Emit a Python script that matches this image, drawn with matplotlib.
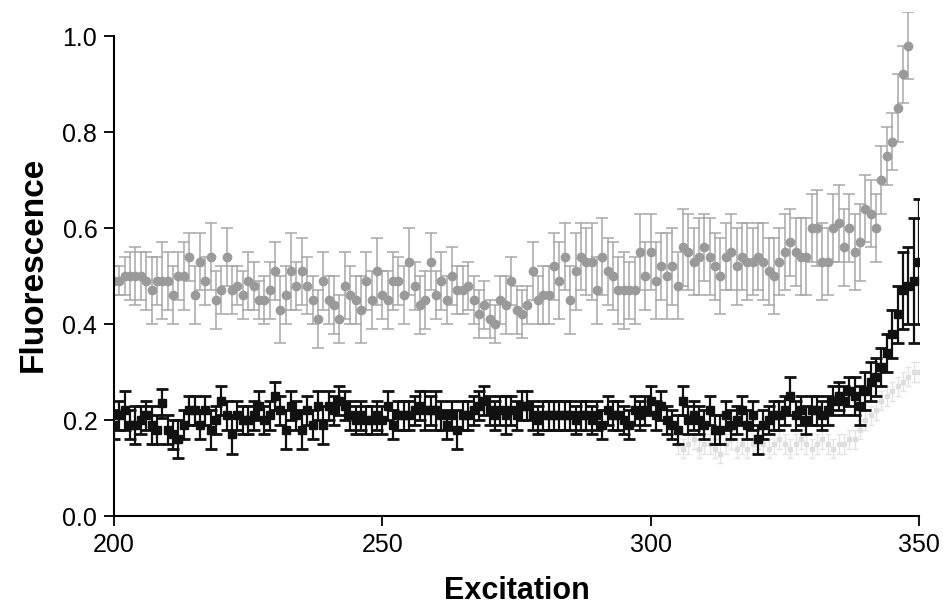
import numpy as np
import matplotlib
matplotlib.use('Agg')
import matplotlib.pyplot as plt

plt.rcParams['font.family'] = ['Liberation Sans', 'DejaVu Sans']

# gray circles, 200..348 nm
wl_gray = np.arange(200, 349)
fl_gray = [
    0.49, 0.49, 0.50, 0.50, 0.50, 0.50, 0.49, 0.47, 0.49, 0.49,
    0.49, 0.46, 0.50, 0.50, 0.54, 0.46, 0.53, 0.49, 0.54, 0.45,
    0.47, 0.54, 0.47, 0.48, 0.46, 0.49, 0.48, 0.45, 0.45, 0.47,
    0.51, 0.43, 0.46, 0.51, 0.48, 0.51, 0.48, 0.45, 0.41, 0.49,
    0.45, 0.44, 0.41, 0.48, 0.46, 0.45, 0.43, 0.49, 0.45, 0.51,
    0.46, 0.45, 0.49, 0.49, 0.46, 0.53, 0.48, 0.44, 0.45, 0.53,
    0.46, 0.49, 0.45, 0.50, 0.47, 0.47, 0.48, 0.45, 0.42, 0.44,
    0.41, 0.40, 0.45, 0.44, 0.49, 0.43, 0.42, 0.44, 0.51, 0.45,
    0.46, 0.46, 0.52, 0.49, 0.54, 0.45, 0.51, 0.54, 0.53, 0.53,
    0.47, 0.54, 0.51, 0.50, 0.47, 0.47, 0.47, 0.47, 0.55, 0.50,
    0.55, 0.49, 0.52, 0.50, 0.52, 0.48, 0.56, 0.55, 0.53, 0.54,
    0.56, 0.54, 0.52, 0.50, 0.54, 0.55, 0.52, 0.54, 0.53, 0.53,
    0.54, 0.53, 0.51, 0.50, 0.53, 0.55, 0.57, 0.55, 0.54, 0.54,
    0.60, 0.60, 0.53, 0.53, 0.60, 0.61, 0.56, 0.60, 0.55, 0.57,
    0.64, 0.63, 0.60, 0.70, 0.75, 0.78, 0.85, 0.92, 0.98,
]
err_gray = [
    0.03, 0.03, 0.04, 0.05, 0.06, 0.05, 0.06, 0.07, 0.05, 0.08,
    0.06, 0.06, 0.05, 0.07, 0.05, 0.06, 0.06, 0.05, 0.07, 0.06,
    0.05, 0.06, 0.05, 0.04, 0.05, 0.06, 0.05, 0.04, 0.05, 0.06,
    0.06, 0.07, 0.06, 0.08, 0.05, 0.07, 0.06, 0.05, 0.06, 0.06,
    0.05, 0.06, 0.05, 0.07, 0.06, 0.05, 0.07, 0.06, 0.06, 0.07,
    0.05, 0.06, 0.06, 0.05, 0.06, 0.07, 0.05, 0.06, 0.06, 0.06,
    0.05, 0.06, 0.05, 0.06, 0.05, 0.05, 0.05, 0.05, 0.05, 0.05,
    0.04, 0.04, 0.05, 0.06, 0.05, 0.05, 0.05, 0.04, 0.06, 0.05,
    0.06, 0.06, 0.07, 0.08, 0.07, 0.07, 0.08, 0.07, 0.07, 0.08,
    0.07, 0.08, 0.07, 0.07, 0.07, 0.08, 0.06, 0.07, 0.08, 0.07,
    0.08, 0.08, 0.07, 0.09, 0.08, 0.07, 0.08, 0.08, 0.07, 0.08,
    0.07, 0.08, 0.07, 0.08, 0.07, 0.08, 0.08, 0.07, 0.08, 0.07,
    0.07, 0.08, 0.07, 0.08, 0.07, 0.08, 0.07, 0.07, 0.08, 0.08,
    0.07, 0.08, 0.08, 0.07, 0.07, 0.08, 0.08, 0.07, 0.08, 0.08,
    0.07, 0.07, 0.07, 0.07, 0.06, 0.06, 0.07, 0.06, 0.07,
]

# black squares, 200..350 nm
wl_black = np.arange(200, 351)
fl_black = [
    0.19, 0.21, 0.22, 0.19, 0.19, 0.20, 0.21, 0.19, 0.18, 0.235,
    0.18, 0.17, 0.16, 0.19, 0.22, 0.22, 0.19, 0.22, 0.18, 0.20,
    0.24, 0.21, 0.17, 0.21, 0.20, 0.20, 0.21, 0.23, 0.20, 0.21,
    0.25, 0.22, 0.18, 0.23, 0.21, 0.18, 0.22, 0.19, 0.23, 0.19,
    0.23, 0.22, 0.24, 0.23, 0.21, 0.20, 0.21, 0.20, 0.20, 0.21,
    0.20, 0.23, 0.19, 0.21, 0.21, 0.21, 0.22, 0.23, 0.22, 0.22,
    0.22, 0.21, 0.19, 0.21, 0.18, 0.21, 0.21, 0.22, 0.23, 0.24,
    0.22, 0.21, 0.22, 0.21, 0.22, 0.21, 0.23, 0.23, 0.21, 0.20,
    0.21, 0.21, 0.21, 0.21, 0.21, 0.21, 0.20, 0.21, 0.21, 0.20,
    0.21, 0.19, 0.22, 0.21, 0.21, 0.20, 0.19, 0.22, 0.21, 0.22,
    0.24, 0.21, 0.23, 0.20, 0.19, 0.18, 0.24, 0.20, 0.21, 0.20,
    0.19, 0.22, 0.18, 0.18, 0.21, 0.19, 0.20, 0.22, 0.19, 0.21,
    0.16, 0.19, 0.20, 0.21, 0.21, 0.22, 0.25, 0.21, 0.22, 0.20,
    0.22, 0.22, 0.21, 0.22, 0.24, 0.25, 0.24, 0.26, 0.25, 0.23,
    0.26, 0.28, 0.29, 0.31, 0.34, 0.38, 0.42, 0.47, 0.48, 0.49,
    0.53,
]
err_black = [
    0.03, 0.03, 0.04, 0.03, 0.04, 0.03, 0.03, 0.04, 0.03, 0.03,
    0.03, 0.03, 0.04, 0.03, 0.03, 0.03, 0.03, 0.03, 0.04, 0.03,
    0.03, 0.03, 0.04, 0.03, 0.03, 0.03, 0.03, 0.03, 0.03, 0.03,
    0.03, 0.03, 0.04, 0.03, 0.03, 0.04, 0.03, 0.03, 0.03, 0.04,
    0.03, 0.03, 0.03, 0.03, 0.03, 0.03, 0.03, 0.03, 0.03, 0.03,
    0.03, 0.03, 0.03, 0.03, 0.03, 0.03, 0.03, 0.03, 0.04, 0.03,
    0.04, 0.03, 0.03, 0.03, 0.04, 0.03, 0.03, 0.03, 0.03, 0.03,
    0.03, 0.03, 0.03, 0.04, 0.03, 0.03, 0.03, 0.03, 0.03, 0.03,
    0.03, 0.03, 0.03, 0.03, 0.03, 0.03, 0.03, 0.03, 0.03, 0.03,
    0.03, 0.03, 0.03, 0.03, 0.03, 0.03, 0.03, 0.03, 0.03, 0.03,
    0.03, 0.03, 0.03, 0.03, 0.03, 0.03, 0.03, 0.03, 0.03, 0.03,
    0.03, 0.03, 0.03, 0.03, 0.03, 0.03, 0.03, 0.03, 0.03, 0.03,
    0.03, 0.03, 0.03, 0.03, 0.03, 0.03, 0.04, 0.03, 0.03, 0.03,
    0.03, 0.03, 0.03, 0.03, 0.03, 0.03, 0.03, 0.03, 0.04, 0.04,
    0.04, 0.04, 0.04, 0.04, 0.04, 0.05, 0.06, 0.08, 0.08, 0.13,
    0.13,
]

# faint light series, 305..350 nm
wl_faint = np.arange(305, 351)
fl_faint = [
    0.15, 0.14, 0.15, 0.16, 0.14, 0.15, 0.15, 0.14, 0.13, 0.15,
    0.16, 0.14, 0.15, 0.14, 0.15, 0.16, 0.15, 0.14, 0.15, 0.16,
    0.15, 0.14, 0.15, 0.16, 0.15, 0.14, 0.15, 0.16, 0.15, 0.14,
    0.15, 0.15, 0.16, 0.16, 0.18, 0.20, 0.21, 0.22, 0.24, 0.25,
    0.26, 0.27, 0.28, 0.29, 0.30, 0.30,
]
err_faint = [0.02] * len(fl_faint)

fig = plt.figure(figsize=(9.43, 6.10), dpi=100)
ax = fig.add_axes([114 / 943, 1 - 516 / 610, (919 - 114) / 943, 504 / 610])

ax.errorbar(wl_gray, fl_gray, yerr=err_gray, fmt='o', color='#9a9a9a',
            ecolor='#a8a8a8', markersize=6, elinewidth=1.1, capsize=4,
            capthick=1.1, zorder=2)
ax.errorbar(wl_faint, fl_faint, yerr=err_faint, fmt='s', color='#dedede',
            ecolor='#e4e4e4', markersize=3, elinewidth=1, capsize=2,
            capthick=1, zorder=1)
ax.errorbar(wl_black, fl_black, yerr=err_black, fmt='s', color='#111111',
            ecolor='#111111', markersize=6, elinewidth=1.6, capsize=4,
            capthick=2, zorder=3)

ax.set_xlim(200, 350)
ax.set_ylim(0, 1.05)
ax.spines['top'].set_visible(False)
ax.spines['right'].set_visible(False)
ax.spines['left'].set_bounds(0, 1.0)
ax.spines['left'].set_linewidth(1.5)
ax.spines['bottom'].set_linewidth(1.5)
ax.set_xticks([200, 250, 300, 350])
ax.set_yticks([0.0, 0.2, 0.4, 0.6, 0.8, 1.0])
ax.set_yticklabels(['0.0', '0.2', '0.4', '0.6', '0.8', '1.0'])
ax.tick_params(direction='out', length=7, width=1.3, labelsize=18, pad=5)

ax.set_xlabel('Excitation', fontsize=22, fontweight='bold', labelpad=14)
ax.set_ylabel('Fluorescence', fontsize=24, fontweight='bold', labelpad=10)

fig.savefig('out.png', dpi=100)
